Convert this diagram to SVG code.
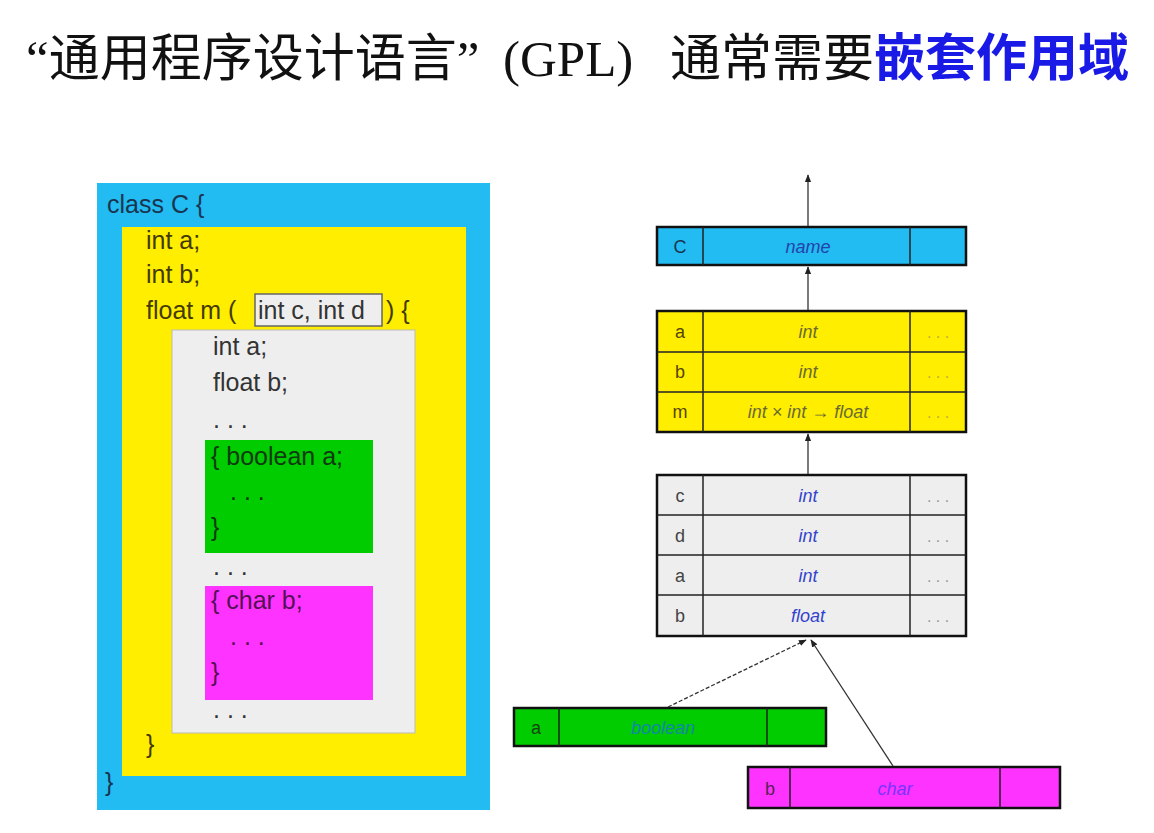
<svg xmlns="http://www.w3.org/2000/svg" width="1154" height="833" viewBox="0 0 1154 833">
<defs>
<marker id="ah" viewBox="0 0 10 10" refX="9" refY="5" markerWidth="6" markerHeight="6" orient="auto-start-reverse"><path d="M0,1 L10,5 L0,9 z" fill="#222"/></marker>
<style>
.code{font-family:"Liberation Sans",Arial,sans-serif;font-size:25px;fill:#333;}
.tbl{stroke:#111;stroke-width:2.5;}
.div{stroke:#222;stroke-width:1.5;}
.lab{font-family:"Liberation Sans",Arial,sans-serif;font-size:18px;fill:#444;text-anchor:middle;}
.typ{font-family:"Liberation Sans",Arial,sans-serif;font-size:18px;font-style:italic;fill:#3344cc;text-anchor:middle;}
.dots{font-family:"Liberation Sans",Arial,sans-serif;font-size:16px;fill:#999;text-anchor:middle;}
.conn{stroke:#333;stroke-width:1.3;fill:none;}
</style>
</defs>
<rect width="1154" height="833" fill="#ffffff"/>
<text id="title" y="76" font-family="'Liberation Serif','Noto Sans CJK SC',serif" font-size="51" fill="#111"><tspan x="26">“通用程序设计语言”</tspan><tspan x="503">(GPL)</tspan><tspan x="670">通常需要</tspan><tspan fill="#1a1ae6" font-weight="bold">嵌套作用域</tspan></text>

<g id="scope-class">
<rect x="97" y="183" width="393" height="627" fill="#22bbf2"/>
<text class="code" x="107" y="213" style="fill:#1a3550">class C {</text>
<text class="code" x="105" y="791" style="fill:#1a3550">}</text>
</g>
<g id="scope-members">
<rect x="122" y="227" width="344" height="549" fill="#ffee00"/>
<text class="code" x="146" y="249" style="fill:#443a00">int a;</text>
<text class="code" x="146" y="283" style="fill:#443a00">int b;</text>
<text class="code" x="146" y="319" style="fill:#443a00">float m (</text>
<text class="code" x="386" y="319" style="fill:#443a00">) {</text>
<text class="code" x="146" y="753" style="fill:#443a00">}</text>
</g>
<g id="params">
<rect x="255" y="294" width="127" height="32" fill="#eeeeee" stroke="#666" stroke-width="1.5"/>
<text class="code" x="258" y="319">int c, int d</text>
</g>
<g id="scope-method">
<rect x="172" y="330" width="243" height="403" fill="#eeeeee" stroke="#bbb" stroke-width="1"/>
<text class="code" x="213" y="355">int a;</text>
<text class="code" x="213" y="391">float b;</text>
<text class="code" x="213" y="428">. . .</text>
<text class="code" x="213" y="575">. . .</text>
<text class="code" x="213" y="718">. . .</text>
</g>
<g id="scope-block1">
<rect x="205" y="440" width="168" height="113" fill="#00cc00"/>
<text class="code" x="211" y="465" style="fill:#103a10">{ boolean a;</text>
<text class="code" x="230" y="500" style="fill:#103a10">. . .</text>
<text class="code" x="211" y="536" style="fill:#103a10">}</text>
</g>
<g id="scope-block2">
<rect x="205" y="586" width="168" height="114" fill="#ff33ff"/>
<text class="code" x="211" y="609" style="fill:#551155">{ char b;</text>
<text class="code" x="230" y="645" style="fill:#551155">. . .</text>
<text class="code" x="211" y="681" style="fill:#551155">}</text>
</g>

<g id="table-C">
<rect class="tbl" x="657" y="227" width="309" height="38" fill="#22bbf2"/>
<line class="div" x1="703" y1="227" x2="703" y2="265"/>
<line class="div" x1="910" y1="227" x2="910" y2="265"/>
<text class="lab" x="680" y="253" style="fill:#1a3550">C</text>
<text class="typ" x="808" y="253" style="fill:#2244aa">name</text>
</g>
<g id="table-members">
<rect class="tbl" x="657" y="311" width="309" height="121" fill="#ffee00"/>
<line class="div" x1="657" y1="352" x2="966" y2="352"/>
<line class="div" x1="657" y1="392" x2="966" y2="392"/>
<line class="div" x1="703" y1="311" x2="703" y2="432"/>
<line class="div" x1="910" y1="311" x2="910" y2="432"/>
<text class="lab" x="680" y="338" style="fill:#554400">a</text>
<text class="lab" x="680" y="378" style="fill:#554400">b</text>
<text class="lab" x="680" y="418" style="fill:#554400">m</text>
<text class="typ" x="808" y="338" style="fill:#6a6a30">int</text>
<text class="typ" x="808" y="378" style="fill:#6a6a30">int</text>
<text class="typ" x="808" y="418" style="fill:#6a6a30">int × int → float</text>
<text class="dots" x="938" y="338" style="fill:#bbaa44">. . .</text>
<text class="dots" x="938" y="378" style="fill:#bbaa44">. . .</text>
<text class="dots" x="938" y="418" style="fill:#bbaa44">. . .</text>
</g>
<g id="table-method">
<rect class="tbl" x="657" y="475" width="309" height="161" fill="#eeeeee"/>
<line class="div" x1="657" y1="515" x2="966" y2="515"/>
<line class="div" x1="657" y1="555" x2="966" y2="555"/>
<line class="div" x1="657" y1="595" x2="966" y2="595"/>
<line class="div" x1="703" y1="475" x2="703" y2="636"/>
<line class="div" x1="910" y1="475" x2="910" y2="636"/>
<text class="lab" x="680" y="502">c</text>
<text class="lab" x="680" y="542">d</text>
<text class="lab" x="680" y="582">a</text>
<text class="lab" x="680" y="622">b</text>
<text class="typ" x="808" y="502">int</text>
<text class="typ" x="808" y="542">int</text>
<text class="typ" x="808" y="582">int</text>
<text class="typ" x="808" y="622">float</text>
<text class="dots" x="938" y="502">. . .</text>
<text class="dots" x="938" y="542">. . .</text>
<text class="dots" x="938" y="582">. . .</text>
<text class="dots" x="938" y="622">. . .</text>
</g>
<g id="table-block1">
<rect class="tbl" x="514" y="708" width="312" height="38" fill="#00cc00"/>
<line class="div" x1="559" y1="708" x2="559" y2="746"/>
<line class="div" x1="767" y1="708" x2="767" y2="746"/>
<text class="lab" x="536" y="734" style="fill:#114411">a</text>
<text class="typ" x="663" y="734" style="fill:#1188aa">boolean</text>
</g>
<g id="table-block2">
<rect class="tbl" x="748" y="767" width="312" height="41" fill="#ff33ff"/>
<line class="div" x1="790" y1="767" x2="790" y2="808"/>
<line class="div" x1="1000" y1="767" x2="1000" y2="808"/>
<text class="lab" x="770" y="795" style="fill:#552255">b</text>
<text class="typ" x="895" y="795" style="fill:#7733ff">char</text>
</g>

<g id="connectors">
<line class="conn" x1="808" y1="226" x2="808" y2="175" marker-end="url(#ah)"/>
<line class="conn" x1="808" y1="310" x2="808" y2="267" marker-end="url(#ah)"/>
<line class="conn" x1="808" y1="474" x2="808" y2="434" marker-end="url(#ah)"/>
<line class="conn" x1="668" y1="707" x2="806" y2="640" stroke-dasharray="4,2" marker-end="url(#ah)"/>
<line class="conn" x1="893" y1="766" x2="811" y2="640" marker-end="url(#ah)"/>
</g>
</svg>
